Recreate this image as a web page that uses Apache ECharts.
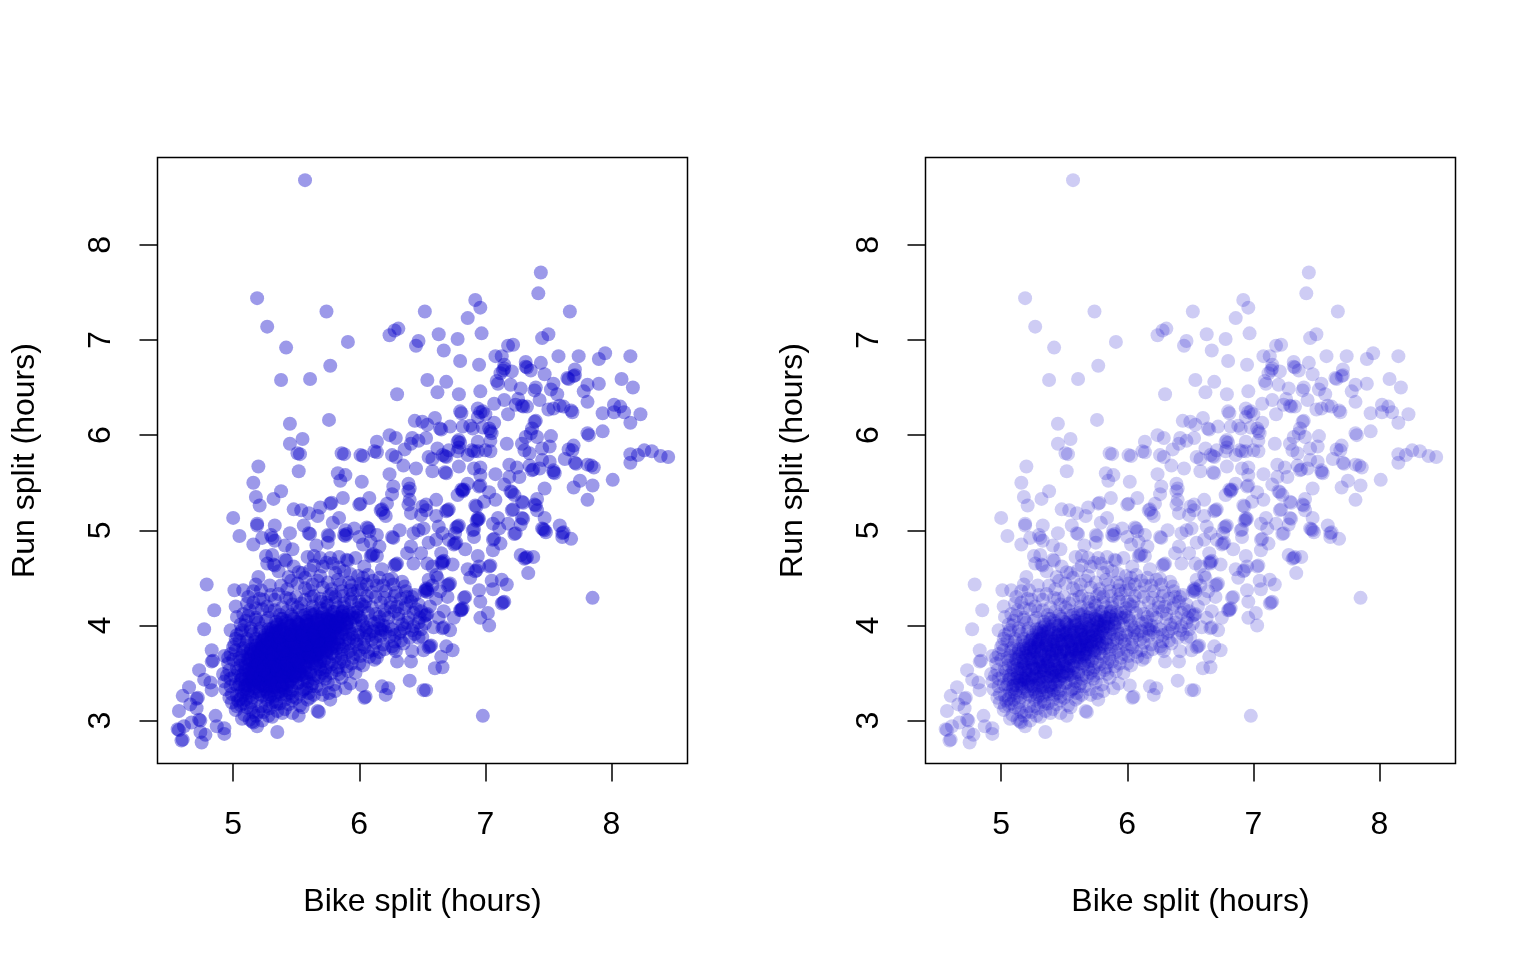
<!DOCTYPE html>
<html><head><meta charset="utf-8">
<style>html,body{margin:0;background:#fff}#c{width:1536px;height:960px}</style>
<script src="https://cdn.jsdelivr.net/npm/echarts@6/dist/echarts.min.js"></script></head>
<body><div id="c"></div>
<script>
const xTicks=[5,6,7,8];
const yTicks=[3,4,5,6,7,8];
const xTitle='Bike split (hours)';
const yTitle='Run split (hours)';
// upper scatter
const upperPoints=[[5.57,8.68],[5.19,7.44],[5.27,7.14],[5.74,7.30],[5.42,6.92],[5.91,6.98],[5.77,6.73],[5.38,6.58],[5.61,6.59],[5.45,6.12],[5.76,6.16],[5.55,5.96],[5.45,5.91],[5.51,5.81],
[6.24,7.05],[6.31,7.12],[6.28,7.10],[6.52,7.30],[6.47,6.99],[6.45,6.94],[6.63,7.06],[6.78,7.01],[6.67,6.89],[6.80,6.78],[6.92,7.42],[6.96,7.34],[6.86,7.23],[6.97,7.07],[6.95,6.74],[6.54,6.58],[6.69,6.56],[6.62,6.45],[6.30,6.43],[6.79,6.43],[6.96,6.46],
[7.44,7.71],[7.42,7.49],[7.67,7.30],[7.50,7.06],[7.45,7.02],[7.22,6.95],[7.18,6.94],[7.08,6.83],[7.13,6.83],[7.15,6.74],[7.14,6.68],[7.15,6.70],[7.12,6.65],[7.21,6.67],[7.09,6.57],[7.10,6.54],[7.32,6.77],[7.32,6.72],[7.33,6.71],[7.36,6.68],[7.44,6.76],[7.47,6.64],[7.58,6.83],[7.74,6.83],[7.90,6.80],[7.95,6.86],[8.15,6.83],[7.71,6.69],[7.70,6.62],[7.71,6.63],[7.66,6.59],[7.65,6.60],[7.81,6.53],[7.90,6.54],[8.08,6.59],[8.17,6.50],[7.78,6.46],[7.81,6.35],[7.54,6.54],[7.52,6.48],[7.57,6.43],[7.40,6.50],[7.39,6.47],[7.28,6.49],[7.20,6.53],[7.26,6.38],[7.15,6.37],[7.07,6.33],[7.24,6.32],[7.30,6.30],[7.33,6.30],[7.29,6.31],[7.43,6.37],[7.50,6.27],[7.54,6.28],[7.59,6.31],[7.62,6.30],[7.69,6.24],[7.68,6.26],[7.18,6.22],[6.94,6.28],[6.80,6.25],[6.81,6.23],[6.96,6.24],[6.98,6.25],[7.00,6.22],[7.07,6.13],[7.04,6.04],[7.03,6.07],[7.05,6.02],[7.39,6.14],[7.40,6.15],[7.37,6.07],[7.36,6.02],[7.32,5.98],[7.29,5.91],[7.31,5.84],[7.41,5.98],[7.52,5.99],[7.93,6.04],[7.81,6.02],[7.82,6.00],[8.15,6.13],[8.23,6.22],[8.02,6.32],[8.07,6.30],[8.10,6.24],[8.02,6.24],[7.93,6.23],[7.17,5.91],[7.45,5.86],[7.51,5.88],[7.70,5.89],[7.66,5.85],[7.69,5.84],[8.26,5.84],[8.15,5.80],[8.39,5.78],
[6.44,6.15],[6.50,6.14],[6.54,6.11],[6.60,6.18],[6.64,6.07],[6.65,6.06],[6.72,6.09],[6.82,6.09],[6.90,6.07],[6.98,6.08],[6.14,5.93],[6.24,6.00],[6.29,5.97],[6.42,5.97],[6.41,5.91],[6.47,5.94],[6.53,5.97],[6.36,5.85],[6.12,5.83],[6.01,5.79],[5.86,5.81],[6.26,5.79],[6.62,5.86],[6.79,5.95],[6.78,5.93],[6.80,5.92],[6.79,5.87],[6.94,5.93],[6.89,5.84],[6.91,5.83],[7.00,5.84],[7.04,5.94],[6.71,5.84],[6.66,5.79],[6.55,5.77],[6.94,6.19],[6.88,6.10]];
// middle scatter
const middlePoints=[[5.53,5.80],[5.20,5.67],[5.52,5.62],[5.88,5.80],[6.03,5.78],[6.14,5.82],[6.29,5.77],[6.35,5.68],[6.45,5.65],[6.24,5.59],[5.83,5.60],[5.89,5.58],[5.85,5.52],[6.02,5.51],[5.16,5.50],[5.38,5.41],[5.32,5.33],[5.18,5.35],[5.21,5.26],[5.00,5.13],[5.48,5.22],[5.54,5.21],[5.60,5.18],[5.69,5.24],[5.67,5.15],[5.77,5.28],[5.78,5.29],[5.87,5.34],[6.00,5.27],[6.01,5.28],[6.08,5.34],[6.27,5.46],[6.26,5.38],[6.22,5.28],[6.17,5.21],[6.18,5.22],[6.19,5.18],[6.21,5.15],[6.39,5.49],[6.40,5.44],[6.39,5.41],[6.40,5.32],[6.39,5.27],[6.41,5.18],[6.50,5.25],[6.49,5.16],[5.84,5.13],[5.79,5.08],[5.19,5.07],[5.19,5.05],[5.33,5.05],[5.56,5.05],[5.45,4.97],[5.60,4.97],[5.61,4.96],[5.05,4.94],[5.23,4.92],[5.30,4.95],[5.31,4.92],[5.33,4.89],[5.16,4.85],[5.41,4.84],[5.47,4.80],[5.75,4.95],[5.76,4.94],[5.75,4.87],[5.89,5.00],[5.88,4.95],[5.90,4.96],[5.89,4.94],[5.96,5.02],[6.06,5.03],[6.07,5.02],[6.08,4.99],[6.14,4.95],[6.00,4.93],[6.03,4.85],[6.09,4.88],[6.16,4.83],[6.10,4.74],[6.11,4.75],[6.09,4.73],[6.14,4.73],[6.26,4.93],[6.27,4.92],[6.32,5.00],[6.43,4.97],[6.47,5.00],[6.51,5.02],[6.53,5.27],[5.66,4.84],[5.59,4.72],[5.64,4.73],[5.69,4.71],[5.77,4.71],[5.84,4.72],[5.90,4.69],[5.91,4.68],[5.97,4.71],[5.26,4.73],[5.31,4.74],[5.27,4.65],[5.32,4.64],[5.33,4.63],[5.41,4.69],[5.42,4.68],[5.48,4.62],[5.36,4.57],[5.44,4.51],[5.20,4.51],[5.29,4.42],[5.18,4.43],[4.79,4.43],[5.01,4.37],[5.08,4.37],[5.16,4.36],[5.22,4.37],[5.12,4.30],[5.11,4.23],[6.29,4.64],[6.30,4.65],[6.28,4.63],[6.04,4.62],[6.38,4.76],[6.43,4.65],[6.49,4.76],[6.41,4.83],
[6.61,5.32],[6.53,5.21],[6.61,5.15],[6.63,5.04],[6.55,4.87],[6.61,4.90],[6.65,4.76],[6.58,4.62],[6.61,4.53],[6.54,4.65],[6.71,4.90],[6.76,4.97],[6.66,4.97],[6.58,5.62],[6.58,5.75],[6.69,5.77],[6.68,5.78],[6.69,5.60],[6.68,5.61],[6.79,5.67],[6.86,5.79],[6.94,5.83],[7.04,5.83],[6.78,5.83],
[8.45,5.77],[8.32,5.83],[8.21,5.79],[8.15,5.71],[8.01,5.53],[7.85,5.47],[7.75,5.52],[7.70,5.45],[7.81,5.32],[7.84,5.68],[7.86,5.66],[7.81,5.69],[7.71,5.71],[7.72,5.70],[7.63,5.75],[7.55,5.60],[7.54,5.61],[7.54,5.63],[7.45,5.74],[7.51,5.72],[7.43,5.65],[7.35,5.68],[7.37,5.63],[7.38,5.64],[7.35,5.81],[7.27,5.56],[7.25,5.66],[7.19,5.69],[7.19,5.56],[7.15,5.48],[7.20,5.41],[7.21,5.40],[7.23,5.37],[7.29,5.30],[7.30,5.29],[7.21,5.21],[7.22,5.22],[7.47,5.44],[7.41,5.33],[7.39,5.27],[7.40,5.26],[7.41,5.21],[7.47,5.13],[7.29,5.13],[7.30,5.12],[7.28,5.06],[7.18,5.07],[7.23,4.96],[7.24,4.97],[7.45,5.02],[7.46,5.01],[7.48,4.98],[7.47,5.00],[7.59,5.05],[7.61,4.97],[7.62,4.98],[7.61,4.93],[7.68,4.91],[7.10,5.13],[7.08,5.32],[7.03,5.40],[7.08,5.59],[6.96,5.66],[6.96,5.58],[6.91,5.65],[6.95,5.46],[6.96,5.47],[6.86,5.49],[6.82,5.42],[6.83,5.43],[6.82,5.41],[6.81,5.43],[6.78,5.37],[6.99,5.30],[6.92,5.26],[6.93,5.25],[6.70,5.21],[6.71,5.22],[6.69,5.20],[6.94,5.11],[6.95,5.12],[6.93,5.10],[6.94,5.13],[6.78,5.04],[6.79,5.05],[6.77,5.03],[6.90,5.00],[6.91,5.01],[7.06,5.07],[7.11,5.02],[6.91,4.93],[7.06,4.90],[7.07,4.91],[7.12,4.86],[7.06,4.79],[6.76,4.86],[6.77,4.87],[6.75,4.85],[6.84,4.80],[6.66,4.67],[6.67,4.68],[6.65,4.66],[6.66,4.65],[6.74,4.64],[6.94,4.73],[6.95,4.62],[7.03,4.62],[7.04,4.63],[6.92,4.57],[6.93,4.58],[6.86,4.59],[6.88,4.50],[7.05,4.47],[7.06,4.38],[7.13,4.48],[7.17,4.43],[6.95,4.37],[6.96,4.25],[7.14,4.24],[7.15,4.25],[7.13,4.23],[7.02,4.13],[6.96,4.08],[7.03,4.00],[6.83,4.29],[6.84,4.30],[6.81,4.17],[6.82,4.18],[6.80,4.16],[6.81,4.16],[6.75,4.08],[6.72,3.95],[6.66,3.97],[6.67,3.98],[6.71,4.43],[6.72,4.44],[6.70,4.42],[6.70,4.30],[6.67,4.15],[6.53,4.37],[6.54,4.38],[6.52,4.36],[6.53,4.39],[6.54,4.35],[6.53,4.11],[6.54,4.12],[6.52,4.10],[7.28,4.74],[7.32,4.71],[7.33,4.72],[7.31,4.70],[7.38,4.72],[7.34,4.55],[7.85,4.29],[6.98,3.05],[6.53,3.32],[6.60,3.55],[6.66,3.56],[6.65,3.67],[6.69,3.78],[6.74,3.74],[6.56,3.78],[6.57,3.79],[6.55,3.77],[6.51,3.74],[6.50,3.88],
[6.62,4.50],[6.58,4.42],[6.61,4.28],[6.56,4.20],[6.63,4.08],[6.59,3.98],[6.52,4.02],[6.55,4.48],[6.64,4.36]];
// lower-left scatter
const lowerPoints=[[4.85,4.16],[4.77,3.96],[5.02,4.20],[5.03,4.09],[4.98,3.95],[4.83,3.74],[4.83,3.62],[4.84,3.63],[4.93,3.68],[4.73,3.53],[4.77,3.43],[4.82,3.40],[4.83,3.32],[4.65,3.35],[4.60,3.26],[4.71,3.23],[4.72,3.24],[4.71,3.13],[4.66,3.17],[4.57,3.10],[4.56,2.91],[4.57,2.90],[4.61,2.94],[4.67,2.98],[4.73,3.01],[4.74,3.00],[4.74,2.88],[4.78,2.85],[4.75,2.77],[4.59,2.79],[4.60,2.80],[4.86,3.05],[4.87,2.94],[4.93,2.92],[4.93,2.86],[5.07,3.02],[5.19,2.94],[5.15,2.99],[5.16,2.98],[5.35,2.88],[5.28,3.05],[5.35,3.10],[5.41,3.12],[5.47,3.08],[5.52,3.05],[5.55,3.14],[5.67,3.10],[5.68,3.09],[5.61,3.24],[5.77,3.22],[5.76,3.29],[5.81,3.31],[5.89,3.34],[5.93,3.39],[6.02,3.37],[6.04,3.24],[6.05,3.25],[6.18,3.36],[6.21,3.27],[6.23,3.34],[6.40,3.42],[6.51,3.32],[6.03,3.58],[6.30,3.62],[6.41,3.62],[6.42,3.73],[6.29,3.73],[6.12,3.64],[6.16,3.97],[6.17,3.96]];
// dense core: alternating bike, run values
const coreA=[5.02,3.11,5.09,3.06,5.13,3.01,5.18,3.05,5.23,3.00,5.24,3.09,5.29,3.13,5.31,3.04,5.34,3.17,5.39,3.08,5.44,3.17,5.11,3.14,5.16,3.09,5.06,3.16,4.99,3.19,5.47,3.21,5.53,3.16,5.59,3.22,5.64,3.27,5.71,3.27,4.97,3.24,5.04,3.21,5.08,3.27,5.14,3.19,5.19,3.23,5.22,3.15,5.27,3.22,5.30,3.27,5.34,3.20,5.38,3.28,5.41,3.22,5.45,3.29,5.50,3.24,5.55,3.31,5.60,3.29,5.66,3.36,5.70,3.33,5.75,3.40,5.80,3.38,5.86,3.45,4.94,3.33,4.99,3.28,5.04,3.35,5.07,3.30,5.10,3.37,5.13,3.26,5.17,3.34,5.21,3.28,5.24,3.36,5.27,3.30,5.31,3.35,5.33,3.26,5.37,3.36,5.40,3.31,5.43,3.38,5.47,3.32,5.51,3.39,5.56,3.33,5.59,3.41,5.63,3.39,5.68,3.46,5.73,3.44,5.78,3.50,5.84,3.49,5.91,3.52,5.97,3.50,4.93,3.41,4.98,3.44,5.02,3.38,5.06,3.43,5.09,3.36,5.12,3.45,5.15,3.39,5.18,3.43,5.21,3.36,5.24,3.45,5.28,3.39,5.30,3.44,5.33,3.35,5.36,3.45,5.39,3.37,5.42,3.46,5.45,3.41,5.48,3.47,5.52,3.40,5.54,3.48,5.58,3.45,5.61,3.49,5.65,3.48,5.69,3.54,5.73,3.53,5.78,3.59,5.83,3.56,5.88,3.62,5.94,3.60,6.01,3.68,6.08,3.67,6.16,3.72,4.92,3.49,4.97,3.53,5.01,3.47,5.04,3.52,5.07,3.44,5.10,3.53,5.13,3.46,5.16,3.54,5.19,3.45,5.22,3.53,5.25,3.46,5.28,3.54,5.31,3.46,5.34,3.53,5.37,3.45,5.40,3.54,5.43,3.47,5.46,3.55,5.49,3.47,5.52,3.55,5.55,3.48,5.58,3.56,5.61,3.51,5.65,3.58,5.68,3.57,5.72,3.63,5.76,3.61,5.81,3.67,5.86,3.65,5.91,3.72,5.97,3.70,6.04,3.77,6.11,3.74,6.19,3.80,6.26,3.78,6.35,3.81,4.96,3.60,5.00,3.64,5.03,3.55,5.06,3.63,5.09,3.56,5.12,3.64,5.15,3.55,5.18,3.63,5.21,3.56,5.24,3.64,5.27,3.55,5.30,3.63,5.33,3.56,5.36,3.64,5.39,3.55,5.42,3.63,5.45,3.56,5.48,3.64,5.51,3.57,5.54,3.65,5.57,3.58,5.60,3.66,5.63,3.60,5.66,3.68,5.70,3.67,5.74,3.72,5.78,3.71,5.82,3.76,5.87,3.75,5.92,3.81,5.98,3.80,6.04,3.86,6.10,3.85,6.17,3.89,6.24,3.88,6.32,3.92,6.40,3.87,6.47,3.87,4.98,3.70,5.02,3.74,5.05,3.66,5.08,3.73,5.11,3.65,5.14,3.73,5.17,3.66,5.20,3.74,5.23,3.65,5.26,3.73,5.29,3.66,5.32,3.74,5.35,3.65,5.38,3.73,5.41,3.66,5.44,3.74,5.47,3.65,5.50,3.73,5.53,3.66,5.56,3.75,5.59,3.68,5.62,3.76,5.65,3.70,5.68,3.78,5.72,3.77,5.76,3.82,5.80,3.81,5.84,3.86,5.89,3.85,5.94,3.91,5.99,3.90,6.05,3.95,6.11,3.94,6.19,4.00,6.26,3.96,6.34,4.01,6.42,3.95,6.49,3.96];
const coreB=[5.01,3.80,5.05,3.84,5.08,3.76,5.11,3.83,5.14,3.75,5.17,3.83,5.20,3.76,5.23,3.84,5.26,3.75,5.29,3.83,5.32,3.76,5.35,3.84,5.38,3.75,5.41,3.83,5.44,3.76,5.47,3.84,5.50,3.75,5.53,3.83,5.56,3.76,5.59,3.84,5.62,3.78,5.65,3.86,5.68,3.80,5.71,3.88,5.75,3.87,5.79,3.92,5.83,3.91,5.87,3.96,5.92,3.95,5.97,4.00,6.03,4.00,6.09,4.05,6.15,4.04,6.23,4.08,6.31,4.07,6.39,4.08,6.47,4.03,5.03,3.90,5.07,3.95,5.11,3.86,5.14,3.94,5.18,3.86,5.21,3.94,5.24,3.85,5.28,3.93,5.31,3.86,5.34,3.94,5.37,3.85,5.40,3.93,5.43,3.86,5.46,3.94,5.49,3.85,5.52,3.93,5.55,3.86,5.58,3.94,5.61,3.87,5.64,3.95,5.67,3.88,5.70,3.96,5.73,3.90,5.77,3.98,5.81,3.97,5.85,4.02,5.90,4.02,5.95,4.08,6.01,4.08,6.07,4.13,6.13,4.12,6.20,4.16,6.28,4.15,6.36,4.18,6.45,4.17,5.06,4.01,5.10,4.05,5.14,3.97,5.18,4.06,5.22,3.97,5.26,4.05,5.30,3.96,5.34,4.04,5.38,3.96,5.42,4.05,5.46,3.96,5.50,4.04,5.54,3.97,5.58,4.05,5.62,3.98,5.66,4.06,5.70,3.99,5.74,4.07,5.78,4.01,5.82,4.09,5.87,4.09,5.92,4.14,5.98,4.14,6.04,4.20,6.10,4.19,6.17,4.24,6.25,4.24,6.33,4.28,6.41,4.25,5.08,4.12,5.13,4.16,5.18,4.08,5.23,4.17,5.28,4.08,5.33,4.16,5.38,4.07,5.43,4.15,5.48,4.07,5.53,4.16,5.58,4.08,5.63,4.16,5.68,4.09,5.73,4.17,5.78,4.11,5.83,4.19,5.88,4.19,5.94,4.25,6.00,4.25,6.06,4.31,6.13,4.30,6.21,4.36,6.29,4.35,6.37,4.36,5.16,4.24,5.21,4.28,5.27,4.20,5.33,4.27,5.39,4.19,5.45,4.28,5.51,4.19,5.57,4.27,5.63,4.20,5.69,4.28,5.75,4.21,5.81,4.30,5.87,4.31,5.93,4.37,5.99,4.37,6.06,4.43,6.14,4.42,6.23,4.48,6.34,4.46,5.36,4.33,5.43,4.38,5.50,4.30,5.57,4.39,5.64,4.31,5.71,4.40,5.78,4.33,5.85,4.43,5.92,4.45,5.99,4.52,6.07,4.53,6.18,4.59,5.51,4.44,5.57,4.50,5.63,4.43,5.69,4.52,5.75,4.45,5.81,4.55,5.88,4.57,5.61,4.58,5.71,4.62,5.79,4.65];
// dense core, second pass over the same cloud
const coreC=[5.03,3.26,5.12,3.32,5.21,3.31,5.29,3.25,5.37,3.31,5.46,3.36,5.15,3.42,5.27,3.47,5.33,3.41,5.41,3.43,5.56,3.42,5.08,3.49,5.17,3.57,5.31,3.58,5.44,3.51,5.53,3.52,5.13,3.60,5.23,3.69,5.37,3.60,5.47,3.69,5.60,3.62,5.07,3.68,5.19,3.71,5.29,3.80,5.43,3.70,5.55,3.80,5.67,3.74,5.10,3.79,5.25,3.87,5.36,3.79,5.49,3.90,5.63,3.82,5.75,3.85,5.16,3.91,5.32,3.98,5.44,3.88,5.57,4.00,5.69,3.92,5.83,3.99,5.20,4.03,5.37,4.11,5.52,4.02,5.65,4.12,5.79,4.05,5.91,4.11,5.29,4.15,5.47,4.22,5.61,4.13,5.74,4.24,5.88,4.23,6.02,4.22,5.42,4.29,5.60,4.37,5.76,4.31,5.95,4.33,6.10,4.35,6.28,4.31,5.55,4.55,5.67,4.47,5.83,4.48,6.01,4.44,6.19,4.42,6.38,4.30,5.92,3.86,6.06,3.92,6.21,3.93,6.36,3.97,6.02,4.05,6.16,4.09,6.30,4.20,6.43,4.13,5.86,3.70,6.00,3.74,6.13,3.82,6.28,3.83,6.44,3.91,5.71,3.50,5.84,3.61,5.95,3.66,6.07,3.72,6.20,3.75,6.33,3.84,5.62,3.36,5.73,3.47,5.82,3.53,5.90,3.57,6.00,3.60,6.14,3.66,6.27,3.76,
5.22,3.42,5.26,3.56,5.30,3.40,5.34,3.50,5.38,3.62,5.42,3.53,5.46,3.43,5.50,3.60,5.54,3.70,5.58,3.50,5.62,3.72,5.66,3.63,5.70,3.79,5.74,3.66,5.78,3.84,5.24,3.61,5.28,3.72,5.32,3.63,5.36,3.76,5.40,3.68,5.44,3.81,5.48,3.72,5.52,3.87,5.56,3.78,5.60,3.93,5.64,3.85,5.68,3.98,5.72,3.83,5.76,4.03,5.80,3.95,5.20,3.50,5.25,3.66,5.30,3.77,5.35,3.69,5.40,3.86,5.45,3.77,5.50,3.95,5.55,3.84,5.60,4.01,5.65,3.90,5.70,4.08,5.75,3.96,5.80,4.14,5.85,4.07,5.90,3.98,5.18,3.60,5.27,3.82,5.33,3.90,5.39,3.79,5.45,4.00,5.51,3.92,5.57,4.11,5.63,3.97,5.69,4.18,5.75,4.10,5.81,4.24,5.87,4.14,5.93,4.28,5.99,4.18,6.05,4.25,5.15,3.70,5.22,3.80,5.30,3.92,5.38,4.03,5.46,4.11,5.54,4.23,5.62,4.30,5.70,4.25,5.78,4.38,5.86,4.36,5.94,4.42,6.02,4.38,6.11,4.47,6.20,4.29,6.27,4.43,
5.10,3.22,5.16,3.38,5.20,3.44,5.26,3.36,5.31,3.52,5.35,3.58,5.41,3.50,5.46,3.60,5.50,3.51,5.55,3.67,5.59,3.75,5.64,3.66,5.68,3.83,5.73,3.74,5.77,3.89,5.06,3.58,5.12,3.70,5.18,3.79,5.24,3.73,5.30,3.85,5.36,3.93,5.42,3.74,5.48,3.80,5.53,3.73,5.58,3.87,5.63,3.79,5.68,3.71,5.73,3.80,5.78,3.76,5.83,3.82,5.88,3.78,5.93,3.74,5.98,3.84,6.03,3.80,6.08,3.90,6.13,3.88,6.18,3.95,6.23,3.99,6.28,3.90,6.33,3.94,6.38,4.03,6.43,3.99,6.48,4.08,6.20,4.11,6.25,4.19,6.31,4.12,6.37,4.22,6.42,4.30,6.47,4.22,6.12,4.02,6.06,3.98,6.00,3.93,5.95,3.87,5.89,3.91,5.84,3.80,5.79,3.70,5.74,3.56,5.69,3.62,5.64,3.44,5.58,3.34,5.53,3.28,5.47,3.25,5.42,3.27,5.37,3.18,5.31,3.19,5.26,3.15,5.20,3.09,5.14,3.12,5.08,3.18,5.03,3.15,4.98,3.36,4.95,3.47,4.96,3.66,5.00,3.77,5.02,3.86,5.06,3.92,5.09,4.00,5.12,4.10,5.18,4.18,5.24,4.27,5.30,4.32,5.38,4.42,5.46,4.47,5.52,4.56,5.64,4.63,5.74,4.66,5.84,4.61,5.93,4.54,6.03,4.50,6.16,4.50,6.26,4.49,6.36,4.41,6.44,4.32,6.49,4.15];
// darkest part of the cloud, third pass along the diagonal
const coreD=[5.06,3.23,5.11,3.29,5.15,3.24,5.18,3.30,5.23,3.26,5.26,3.33,5.28,3.28,5.32,3.32,5.36,3.30,5.39,3.35,5.42,3.32,5.05,3.38,5.09,3.33,5.13,3.41,5.16,3.36,5.19,3.42,5.22,3.38,5.25,3.44,5.29,3.37,5.32,3.46,5.35,3.40,5.38,3.47,5.41,3.40,5.44,3.47,5.47,3.40,5.50,3.46,5.06,3.47,5.10,3.44,5.13,3.50,5.16,3.46,5.19,3.53,5.22,3.48,5.25,3.55,5.28,3.50,5.31,3.56,5.34,3.49,5.37,3.57,5.40,3.51,5.43,3.58,5.46,3.52,5.49,3.59,5.52,3.50,5.55,3.57,5.58,3.62,5.10,3.59,5.13,3.55,5.16,3.62,5.19,3.57,5.22,3.65,5.25,3.59,5.28,3.66,5.31,3.61,5.34,3.68,5.37,3.62,5.40,3.70,5.43,3.63,5.46,3.71,5.49,3.63,5.52,3.72,5.55,3.65,5.58,3.73,5.61,3.68,5.64,3.75,5.67,3.70,5.14,3.67,5.17,3.72,5.20,3.68,5.23,3.76,5.26,3.70,5.29,3.77,5.32,3.72,5.35,3.79,5.38,3.71,5.41,3.80,5.44,3.73,5.47,3.81,5.50,3.74,5.53,3.82,5.56,3.74,5.59,3.82,5.62,3.75,5.65,3.83,5.68,3.76,5.71,3.82,5.18,3.76,5.21,3.83,5.24,3.79,5.27,3.86,5.30,3.81,5.33,3.87,5.36,3.82,5.39,3.89,5.42,3.83,5.45,3.90,5.48,3.83,5.51,3.91,5.54,3.84,5.57,3.92,5.60,3.86,5.63,3.93,5.66,3.87,5.69,3.94,5.72,3.89,5.75,3.93,5.78,3.88,5.81,3.94,5.25,3.90,5.28,3.96,5.31,3.91,5.34,3.98,5.37,3.93,5.40,3.99,5.43,3.92,5.46,4.00,5.49,3.93,5.52,4.01,5.55,3.95,5.58,4.02,5.61,3.96,5.64,4.03,5.67,3.98,5.70,4.05,5.73,4.00,5.76,4.06,5.79,4.00,5.82,4.05,5.85,3.99,5.88,4.06,5.35,4.01,5.39,4.07,5.43,4.02,5.47,4.09,5.51,4.03,5.55,4.10,5.59,4.05,5.63,4.11,5.67,4.06,5.71,4.13,5.75,4.07,5.79,4.14,5.83,4.08,5.87,4.15,5.91,4.06,5.95,4.13,5.99,4.10,
5.12,3.37,5.17,3.44,5.21,3.40,5.26,3.48,5.30,3.43,5.35,3.53,5.39,3.46,5.44,3.54,5.48,3.50,5.53,3.58,5.57,3.55,5.62,3.66,5.66,3.60,5.71,3.70,5.75,3.74,5.80,3.78,5.15,3.50,5.20,3.59,5.24,3.53,5.29,3.62,5.33,3.58,5.38,3.67,5.42,3.60,5.47,3.68,5.51,3.62,5.56,3.71,5.60,3.70,5.65,3.79,5.69,3.75,5.74,3.84,5.78,3.80,5.83,3.87,5.22,3.71,5.27,3.77,5.31,3.70,5.36,3.80,5.40,3.74,5.45,3.84,5.49,3.78,5.54,3.88,5.58,3.80,5.63,3.90,5.67,3.84,5.72,3.94,5.76,3.90,5.81,3.99,5.86,3.92,5.90,4.00,5.28,3.85,5.32,3.94,5.37,3.88,5.41,3.96,5.46,3.90,5.50,3.98,5.55,3.90,5.59,4.00,5.64,3.92,5.68,4.02,5.73,3.95,5.77,4.04,5.82,4.02,5.86,4.10,5.93,4.03,5.97,4.08];
const corePairs=coreA.concat(coreB,coreC,coreD);
const corePoints=[];
for(let i=0;i+1<corePairs.length;i+=2)corePoints.push([corePairs[i],corePairs[i+1]]);
const allPoints=upperPoints.concat(middlePoints,lowerPoints,corePoints);
const font='"Liberation Sans",Arial,sans-serif';
const grids=[{left:157.5,top:157.5,width:530,height:606},{left:925.5,top:157.5,width:530,height:606}];
const alphas=[0.4,0.2];
const opt={animation:false,backgroundColor:'#fff',
 grid:grids.map(g=>({...g,outerBoundsMode:'none',show:true,borderColor:'#000',borderWidth:1.5,backgroundColor:'#fff'})),
 xAxis:grids.map((g,i)=>({type:'value',gridIndex:i,min:4.4,max:8.603,splitLine:{show:false},axisLine:{show:false,onZero:false},
  axisTick:{show:true,length:18,lineStyle:{color:'#000',width:1.5},customValues:xTicks},
  axisLabel:{color:'#000',fontSize:32,fontFamily:font,margin:46,customValues:xTicks},
  name:xTitle,nameLocation:'middle',nameGap:123,nameTextStyle:{color:'#000',fontSize:32,fontFamily:font}})),
 yAxis:grids.map((g,i)=>({type:'value',gridIndex:i,min:2.549,max:8.918,splitLine:{show:false},axisLine:{show:false,onZero:false},
  axisTick:{show:true,length:18,lineStyle:{color:'#000',width:1.5},customValues:yTicks},
  axisLabel:{color:'#000',fontSize:32,fontFamily:font,margin:40,rotate:90,customValues:yTicks},
  name:yTitle,nameLocation:'middle',nameGap:116,nameRotate:90,nameTextStyle:{color:'#000',fontSize:32,fontFamily:font}})),
 series:grids.map((g,i)=>({type:'scatter',xAxisIndex:i,yAxisIndex:i,data:allPoints,symbolSize:14,large:false,silent:true,
  itemStyle:{color:'#0800c8',opacity:alphas[i],borderWidth:0}}))};
const chart=echarts.init(document.getElementById('c'),null,{renderer:'canvas'});
chart.setOption(opt);
</script></body></html>
